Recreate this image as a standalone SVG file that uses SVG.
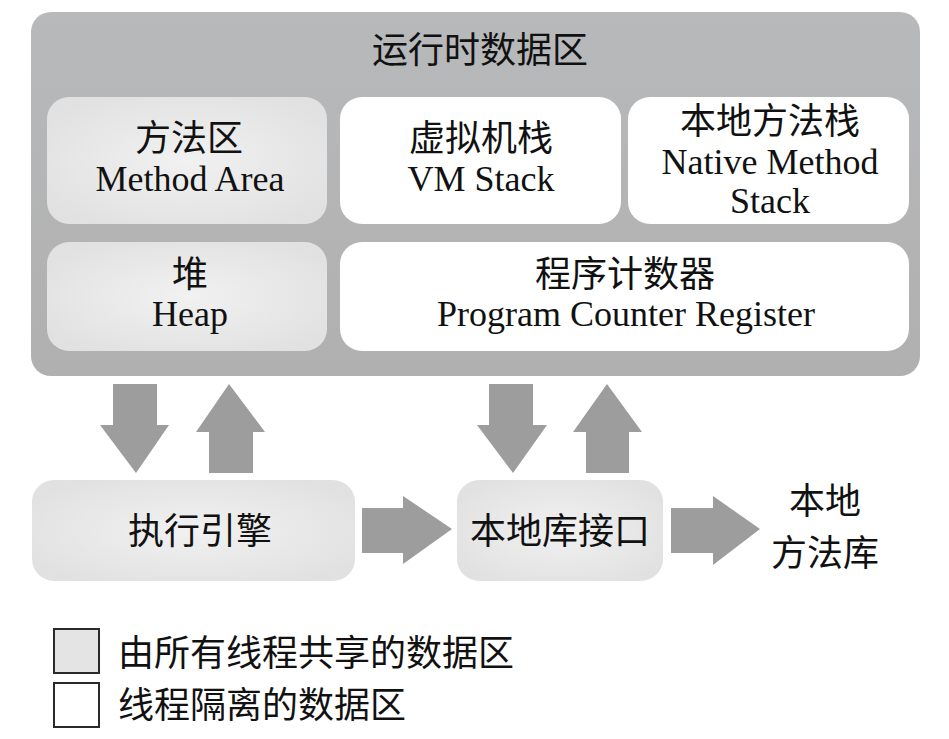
<svg xmlns="http://www.w3.org/2000/svg" width="949" height="739" viewBox="0 0 949 739">
<defs>
<radialGradient id="shared" cx="50%" cy="50%" r="60%">
<stop offset="0" stop-color="#f1f1f1"/>
<stop offset="1" stop-color="#e1e1e1"/>
</radialGradient>
<linearGradient id="outerG" x1="0" y1="0" x2="0" y2="1">
<stop offset="0" stop-color="#b8b9bb"/>
<stop offset="1" stop-color="#b0b0b0"/>
</linearGradient>
<style>
.t{font-family:"Liberation Serif","Noto Sans CJK SC",serif;font-size:36px;fill:#111;text-anchor:middle}
.c{font-family:"Noto Sans CJK SC","Liberation Sans",sans-serif;font-size:36px;fill:#111;text-anchor:middle}
.l{font-family:"Noto Sans CJK SC","Liberation Sans",sans-serif;font-size:36px;fill:#111}
.sh{fill:url(#shared)}
.th{fill:#ffffff}
.arr{fill:#9d9d9d}
.leg{stroke:#2a2a2a;stroke-width:2}
</style>
</defs>
<g id="runtime-data-area">
<rect x="31" y="12" width="889" height="364" rx="20" fill="url(#outerG)"/>
<text class="c" x="480" y="63">运行时数据区</text>
</g>
<g id="method-area">
<rect class="sh" x="47" y="97" width="280" height="127" rx="22"/>
<text class="c" x="189" y="151">方法区</text>
<text class="t" x="190" y="191">Method Area</text>
</g>
<g id="vm-stack">
<rect class="th" x="340" y="97" width="281" height="127" rx="22"/>
<text class="c" x="481" y="151">虚拟机栈</text>
<text class="t" x="481" y="191">VM Stack</text>
</g>
<g id="native-method-stack">
<rect class="th" x="628" y="97" width="281" height="127" rx="22"/>
<text class="c" x="770" y="134">本地方法栈</text>
<text class="t" x="770" y="174">Native Method</text>
<text class="t" x="770" y="213">Stack</text>
</g>
<g id="heap">
<rect class="sh" x="47" y="242" width="280" height="109" rx="22"/>
<text class="c" x="190" y="287">堆</text>
<text class="t" x="190" y="326">Heap</text>
</g>
<g id="pc-register">
<rect class="th" x="340" y="242" width="569" height="109" rx="22"/>
<text class="c" x="625" y="287">程序计数器</text>
<text class="t" x="626" y="326">Program Counter Register</text>
</g>
<g id="execution-engine">
<rect class="sh" x="32" y="480" width="323" height="101" rx="22"/>
<text class="c" x="200" y="544">执行引擎</text>
</g>
<g id="native-interface">
<rect class="sh" x="457" y="480" width="206" height="101" rx="22"/>
<text class="c" x="560" y="544">本地库接口</text>
</g>
<g id="native-libraries">
<text class="c" x="825" y="514">本地</text>
<text class="c" x="825" y="566">方法库</text>
</g>
<g id="connectors">
<polygon class="arr" points="113,384 157,384 157,425 169,425 136,473 100,425 113,425"/>
<polygon class="arr" points="229,384 265,432 253,432 253,473 209,473 209,432 196,432"/>
<polygon class="arr" points="489,384 533,384 533,425 547,425 513,473 477,425 489,425"/>
<polygon class="arr" points="607,384 642,432 629,432 629,473 586,473 586,432 573,432"/>
<polygon class="arr" points="362,508 403,508 403,496 452,529 403,564 403,553 362,553"/>
<polygon class="arr" points="671,508 713,508 713,496 760,529 713,565 713,553 671,553"/>
</g>
<g id="legend">
<rect class="leg" x="54" y="629" width="45" height="44" fill="#e4e4e4"/>
<text class="l" x="118" y="666">由所有线程共享的数据区</text>
<rect class="leg" x="54" y="683" width="45" height="44" fill="#ffffff"/>
<text class="l" x="118" y="718">线程隔离的数据区</text>
</g>
</svg>
